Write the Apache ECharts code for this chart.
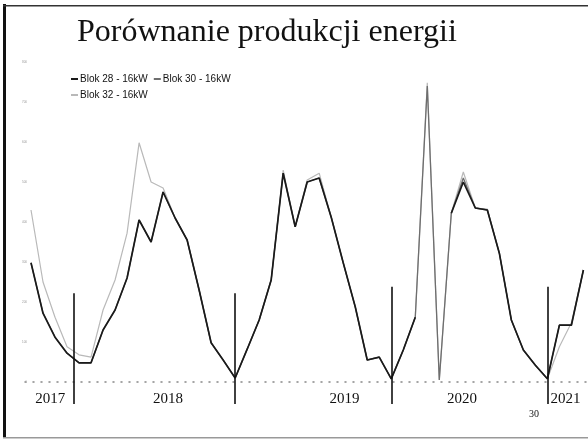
<!DOCTYPE html>
<html>
<head>
<meta charset="utf-8">
<script src="https://cdn.jsdelivr.net/npm/echarts@6/dist/echarts.min.js"></script>
<style>
html,body{margin:0;padding:0;background:#fff;}
#main{width:588px;height:440px;}
</style>
</head>
<body>
<div id="main"></div>
<script>
// miesiące od 2017 do 2021 (indeks = kolejny punkt pomiaru)
var seriesNames = ['Blok 28 - 16kW', 'Blok 30 - 16kW', 'Blok 32 - 16kW'];
var blok28 = [298,172,112,72,48,48,130,180,260,405,350,475,410,355,230,98,55,10,
    82,155,255,522,388,500,510,412,298,188,55,62,8,
    80,162,null,null,422,500,435,430,322,155,80,42,8,142,142,280];
var blok30 = [298,172,112,72,48,48,130,180,260,405,350,475,410,355,230,98,55,10,
    82,155,255,522,388,500,510,412,298,188,55,62,8,
    80,162,740,5,422,510,435,430,322,155,80,42,8,142,142,280];
var blok32 = [430,250,162,88,68,62,180,255,372,598,500,485,410,355,230,98,55,10,
    82,155,255,530,388,505,522,412,298,188,55,62,8,
    80,162,748,5,422,525,435,432,322,155,80,42,8,88,148,280];
var years = ['2017', '2018', '2019', '2020', '2021'];
var yearPos = [1.6, 11.4, 26.1, 35.9, 44.5];
var yearBreaks = [3.55, 17, 30, 43];
var breakTop = [222, 222, 238, 238];
var yTicks = [0,100,200,300,400,500,600,700,800];

function toPairs(arr) {
    var out = [];
    for (var i = 0; i < arr.length; i++) {
        out.push([i, arr[i]]);
    }
    return out;
}

var myChart = echarts.init(document.getElementById('main'));

var breaks = [];
for (var i = 0; i < yearBreaks.length; i++) {
    breaks.push([{coord: [yearBreaks[i], breakTop[i]]}, {coord: [yearBreaks[i], -55]}]);
}

var colors = ['#1a1a1a', '#6e6e6e', '#b9b9b9'];

var option = {
    backgroundColor: '#fff',
    animation: false,
    title: {
        text: 'Porównanie produkcji energii',
        left: 72,
        top: 12,
        textStyle: {fontFamily: 'Liberation Serif', fontSize: 32, fontWeight: 'normal', color: '#111'}
    },
    legend: {
        left: 66,
        top: 69,
        width: 200,
        itemWidth: 7,
        itemHeight: 2,
        itemGap: 6,
        icon: 'rect',
        data: [seriesNames[0], seriesNames[1], seriesNames[2]],
        textStyle: {fontFamily: 'Liberation Sans', fontSize: 10, color: '#111', padding: [0, 0, 0, -3]}
    },
    grid: {left: 25, right: 1, top: 62, bottom: 36},
    xAxis: {
        type: 'value',
        min: -0.5,
        max: 46.3,
        splitLine: {show: false},
        axisTick: {show: false},
        axisLine: {onZero: true, lineStyle: {color: '#888', type: [1, 7], width: 1.5}},
        axisLabel: {
            customValues: yearPos,
            margin: -12,
            fontFamily: 'Liberation Serif',
            fontSize: 15,
            color: '#111',
            formatter: function (v) {
                for (var i = 0; i < yearPos.length; i++) {
                    if (Math.abs(yearPos[i] - v) < 0.01) return years[i];
                }
                return '';
            }
        }
    },
    yAxis: {
        type: 'value',
        min: -55,
        max: 800,
        splitLine: {show: false},
        axisLine: {show: false},
        axisTick: {show: false},
        axisLabel: {customValues: yTicks, fontSize: 3, color: '#999', margin: -2}
    },
    series: [
        {
            name: seriesNames[2], type: 'line', data: toPairs(blok32), showSymbol: false,
            lineStyle: {color: colors[2], width: 1.2}, itemStyle: {color: colors[2]}, z: 2
        },
        {
            name: seriesNames[1], type: 'line', data: toPairs(blok30), showSymbol: false,
            lineStyle: {color: colors[1], width: 1.3}, itemStyle: {color: colors[1]}, z: 3
        },
        {
            name: seriesNames[0], type: 'line', data: toPairs(blok28), showSymbol: false,
            lineStyle: {color: colors[0], width: 1.7}, itemStyle: {color: colors[0]}, z: 4,
            markLine: {
                silent: true,
                symbol: 'none',
                label: {show: false},
                lineStyle: {color: '#111', type: 'solid', width: 1.6},
                data: breaks
            }
        }
    ],
    graphic: [
        {type: 'rect', shape: {x: 3, y: 4, width: 3, height: 434}, style: {fill: '#111'}},
        {type: 'rect', shape: {x: 3, y: 5, width: 585, height: 1.5}, style: {fill: '#333'}},
        {type: 'rect', shape: {x: 3, y: 437, width: 585, height: 1.5}, style: {fill: '#999'}},
        {type: 'text', left: 529, top: 409, style: {text: '30', fontFamily: 'Liberation Serif', fontSize: 10, fill: '#111'}}
    ]
};

myChart.setOption(option);
</script>
</body>
</html>
